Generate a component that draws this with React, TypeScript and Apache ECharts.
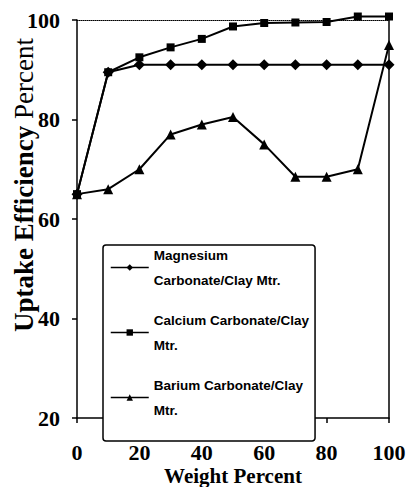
import React, { useEffect, useRef } from "react";
import * as echarts from "echarts";

const xValues = [0, 10, 20, 30, 40, 50, 60, 70, 80, 90, 100];
const magnesium = [65, 89.5, 91, 91, 91, 91, 91, 91, 91, 91, 91];
const calcium = [65, 89.5, 92.5, 94.5, 96.2, 98.7, 99.4, 99.5, 99.6, 100.7, 100.7];
const barium = [65, 66, 70, 77, 79, 80.5, 75, 68.5, 68.5, 70, 95];
const seriesNames = [
  "Magnesium Carbonate/Clay Mtr.",
  "Calcium Carbonate/Clay Mtr.",
  "Barium Carbonate/Clay Mtr.",
];
const legendLabels = [
  "Magnesium\nCarbonate/Clay Mtr.",
  "Calcium Carbonate/Clay\nMtr.",
  "Barium Carbonate/Clay\nMtr.",
];
const symbols = ["diamond", "rect", "triangle"];
const symbolSizes = [11, 8, 10];
const xTicks = { min: 0, max: 100, interval: 20 };
const yTicks = { min: 20, max: 100, interval: 20 };
const xTitle = "Weight Percent";
const yTitleBold = "Uptake Efficiency";
const yTitleRegular = "Percent";

const serif = "'Liberation Serif', 'DejaVu Serif', serif";
const sans = "'Liberation Sans', Arial, sans-serif";

export default function App() {
  const ref = useRef<HTMLDivElement>(null);
  useEffect(() => {
    if (!ref.current) return;
    const chart = echarts.init(ref.current, undefined, { renderer: "svg" });
    const allData = [magnesium, calcium, barium];
    const axisLine = { show: true, onZero: false, lineStyle: { color: "#000", width: 1.5 } };
    const option: any = {
      animation: false,
      backgroundColor: "#fff",
      grid: { left: 77, right: 19, top: 20, bottom: 69, containLabel: false, outerBoundsMode: "none" },
      legend: {
        orient: "vertical",
        left: 103,
        top: 245,
        padding: [3, 6, 24, 7],
        itemGap: 26,
        itemWidth: 38,
        itemHeight: 8,
        borderColor: "#000",
        borderWidth: 1.5,
        borderRadius: 3,
        backgroundColor: "#fff",
        lineStyle: { width: 1.5 },
        data: seriesNames,
        formatter: (name: string) => legendLabels[seriesNames.indexOf(name)],
        textStyle: {
          fontFamily: sans,
          fontWeight: "bold",
          fontSize: 13.5,
          color: "#000",
          lineHeight: 25,
          padding: [0, 0, -25, 0],
        },
      },
      xAxis: [
        {
          type: "value",
          position: "bottom",
          ...xTicks,
          axisLine,
          axisTick: { show: true, length: 5, lineStyle: { color: "#000", width: 1.5 } },
          splitLine: { show: false },
          axisLabel: {
            margin: 23,
            fontFamily: serif,
            fontWeight: "bold",
            fontSize: 22,
            color: "#000",
          },
          name: xTitle,
          nameLocation: "middle",
          nameGap: 47,
          nameMoveOverlap: false,
          nameTextStyle: { fontFamily: serif, fontWeight: "bold", fontSize: 21, color: "#000" },
        },
        {
          type: "value",
          position: "top",
          ...xTicks,
          axisLine: { show: true, onZero: false, lineStyle: { color: "#000", width: 1, type: "dotted" } },
          axisTick: { show: false },
          axisLabel: { show: false },
          splitLine: { show: false },
        },
      ],
      yAxis: [
        {
          type: "value",
          position: "left",
          ...yTicks,
          axisLine,
          axisTick: { show: true, length: 5, lineStyle: { color: "#000", width: 1.5 } },
          splitLine: { show: false },
          axisLabel: {
            margin: 17,
            fontFamily: serif,
            fontWeight: "bold",
            fontSize: 22,
            color: "#000",
          },
          name: `{b|${yTitleBold}} {r|${yTitleRegular}}`,
          nameLocation: "middle",
          nameGap: 40,
          nameMoveOverlap: false,
          nameTextStyle: {
            fontFamily: serif,
            fontSize: 27,
            color: "#000",
            padding: [0, 0, 0, 68],
            rich: {
              b: { fontFamily: serif, fontWeight: "bold", fontSize: 27, color: "#000" },
              r: { fontFamily: serif, fontWeight: "normal", fontSize: 27, color: "#000" },
            },
          },
        },
        {
          type: "value",
          position: "right",
          ...yTicks,
          axisLine: { show: true, onZero: false, lineStyle: { color: "#000", width: 1.5 } },
          axisTick: { show: false },
          axisLabel: { show: false },
          splitLine: { show: false },
        },
      ],
      series: seriesNames.map((name, i) => ({
        name,
        type: "line",
        xAxisIndex: 0,
        yAxisIndex: 0,
        clip: false,
        symbol: symbols[i],
        symbolSize: symbolSizes[i],
        showAllSymbol: true,
        itemStyle: { color: "#000" },
        lineStyle: { color: "#000", width: 2 },
        data: xValues.map((x, j) => [x, allData[i][j]]),
      })),
    };
    chart.setOption(option);
    return () => chart.dispose();
  }, []);
  return (
    <div
      ref={ref}
      style={{ position: "fixed", left: 0, top: 0, width: 408, height: 487, background: "#fff" }}
    />
  );
}
